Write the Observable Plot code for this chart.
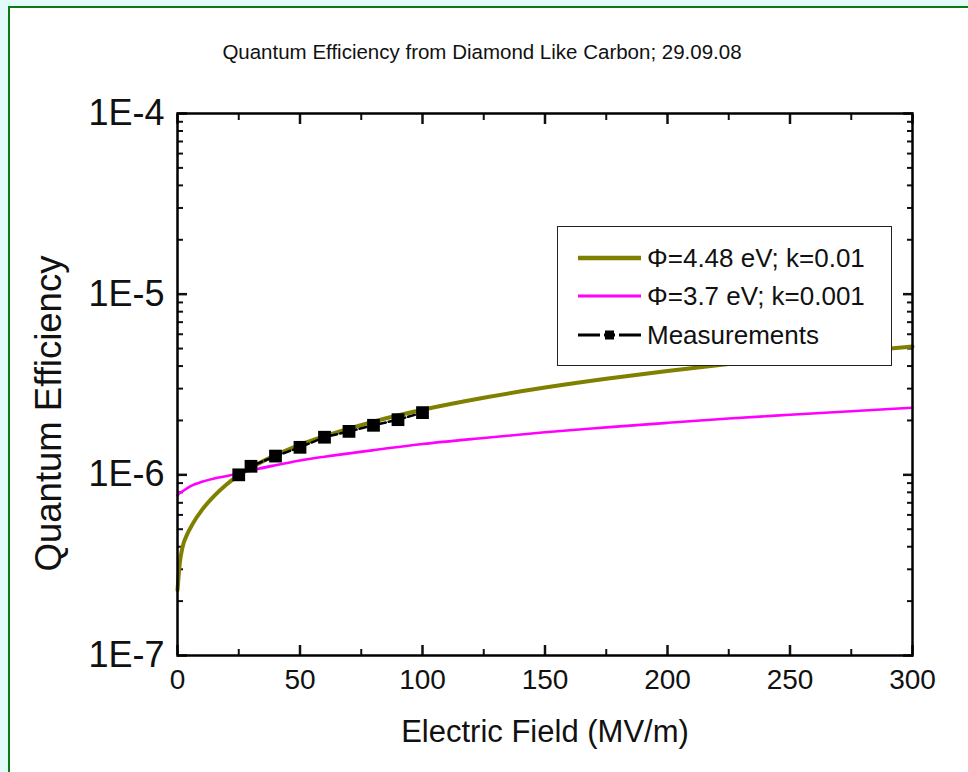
<!DOCTYPE html>
<html>
<head>
<meta charset="utf-8">
<script src="https://cdn.jsdelivr.net/npm/d3@7"></script>
<script src="https://cdn.jsdelivr.net/npm/@observablehq/plot@0.6"></script>
<style>
  html, body { margin: 0; padding: 0; }
  body { width: 968px; height: 772px; background: #e2fafa; position: relative; overflow: hidden;
         font-family: "Liberation Sans", Arial, sans-serif; }
  #sheet { position: absolute; left: 8px; top: 6px; width: 1000px; height: 800px;
           border-left: 2.5px solid #0b7a12; border-top: 2.5px solid #0b7a12; background: #fff; }
  #title { position: absolute; left: 0; width: 964px; top: 40px; text-align: center;
           font-size: 20.5px; color: #111; }
  #chart { position: absolute; left: 0; top: 0; }
  #legend { position: absolute; left: 557px; top: 226px; width: 335px; height: 140px;
            border: 1.2px solid #222; background: #fff; box-sizing: border-box; }
  .row { position: absolute; left: 20px; height: 30px; display: flex; align-items: center;
         font-size: 26px; color: #111; white-space: nowrap; }
  .row svg { margin-right: 6px; }
</style>
</head>
<body>
<div id="sheet"></div>
<div id="chart"></div>
<div id="title">Quantum Efficiency from Diamond Like Carbon; 29.09.08</div>
<div id="legend"></div>
<script>
// ---------------- data ----------------
const fieldX     = [0, 1, 2, 4, 6, 10, 15, 20, 25, 30, 40, 50, 60, 80, 100, 125, 150, 175, 200, 225, 250, 275, 300];
const qeOlive    = [2.3e-7, 3.3e-7, 3.95e-7, 4.7e-7, 5.3e-7, 6.4e-7, 7.65e-7, 8.85e-7, 9.95e-7, 1.095e-6, 1.285e-6, 1.465e-6, 1.635e-6, 1.97e-6, 2.29e-6, 2.67e-6, 3.04e-6, 3.4e-6, 3.76e-6, 4.1e-6, 4.45e-6, 4.79e-6, 5.13e-6];
const qeMagenta  = [7.7e-7, 7.95e-7, 8.1e-7, 8.45e-7, 8.75e-7, 9.15e-7, 9.55e-7, 9.85e-7, 1.018e-6, 1.058e-6, 1.13e-6, 1.2e-6, 1.26e-6, 1.37e-6, 1.48e-6, 1.6e-6, 1.72e-6, 1.83e-6, 1.94e-6, 2.05e-6, 2.15e-6, 2.25e-6, 2.35e-6];
const measX      = [25, 30, 40, 50, 60, 70, 80, 90, 100];
const measQE     = [1.0e-6, 1.115e-6, 1.27e-6, 1.42e-6, 1.615e-6, 1.74e-6, 1.88e-6, 2.02e-6, 2.21e-6];

const seriesNames  = ["\u03A6=4.48 eV; k=0.01", "\u03A6=3.7 eV; k=0.001", "Measurements"];
const seriesColors = ["#808000", "#ff00ff", "#000000"];

const xTicks      = [0, 50, 100, 150, 200, 250, 300];
const xMinorTicks = [25, 75, 125, 175, 225, 275];
const yTicks      = [1e-7, 1e-6, 1e-5, 1e-4];
const yTickLabels = ["1E-7", "1E-6", "1E-5", "1E-4"];
const yMinorTicks = [2e-7, 3e-7, 4e-7, 5e-7, 6e-7, 7e-7, 8e-7, 9e-7,
                     2e-6, 3e-6, 4e-6, 5e-6, 6e-6, 7e-6, 8e-6, 9e-6,
                     2e-5, 3e-5, 4e-5, 5e-5, 6e-5, 7e-5, 8e-5, 9e-5];

// ---------------- tables ----------------
const olive   = fieldX.map((x, i) => ({x, y: qeOlive[i]}));
const magenta = fieldX.map((x, i) => ({x, y: qeMagenta[i]}));
const meas    = measX.map((x, i) => ({x, y: measQE[i]}));

const blank = () => "";
const font = "'Liberation Sans', Arial, sans-serif";

const chart = Plot.plot({
  width: 968,
  height: 772,
  marginLeft: 177,
  marginRight: 56,
  marginTop: 113,
  marginBottom: 117,
  style: {background: "transparent", fontFamily: font, color: "#111", overflow: "visible"},
  x: {domain: [0, 300]},
  y: {type: "log", domain: [1e-7, 1e-4]},
  marks: [
    // inward major/minor ticks on all four sides
    Plot.axisX(xTicks, {anchor: "bottom", tickSize: 10, dy: -10, strokeWidth: 2.5, tickFormat: blank, label: null}),
    Plot.axisX(xMinorTicks, {anchor: "bottom", tickSize: 6, dy: -6, strokeWidth: 2, tickFormat: blank, label: null}),
    Plot.axisX(xTicks, {anchor: "top", tickSize: 10, dy: 10, strokeWidth: 2.5, tickFormat: blank, label: null}),
    Plot.axisX(xMinorTicks, {anchor: "top", tickSize: 6, dy: 6, strokeWidth: 2, tickFormat: blank, label: null}),
    Plot.axisY(yTicks, {anchor: "left", tickSize: 10, dx: 10, strokeWidth: 2.5, tickFormat: blank, label: null}),
    Plot.axisY(yMinorTicks, {anchor: "left", tickSize: 6, dx: 6, strokeWidth: 2, tickFormat: blank, label: null}),
    Plot.axisY(yTicks, {anchor: "right", tickSize: 10, dx: -10, strokeWidth: 2.5, tickFormat: blank, label: null}),
    Plot.axisY(yMinorTicks, {anchor: "right", tickSize: 6, dx: -6, strokeWidth: 2, tickFormat: blank, label: null}),
    // tick labels and axis titles
    Plot.axisX(xTicks, {anchor: "bottom", tickSize: 0, tickPadding: 14, fontSize: 28,
      label: "Electric Field (MV/m)", labelAnchor: "center", labelArrow: "none", labelOffset: 86}),
    Plot.axisY(yTicks, {anchor: "left", tickSize: 0, tickPadding: 13, fontSize: 36,
      tickFormat: (d) => yTickLabels[yTicks.indexOf(d)],
      label: "Quantum Efficiency", labelAnchor: "center", labelArrow: "none", labelOffset: 142}),
    // curves
    Plot.line(magenta, {x: "x", y: "y", stroke: seriesColors[1], strokeWidth: 2.6, curve: "monotone-x"}),
    Plot.line(olive, {x: "x", y: "y", stroke: seriesColors[0], strokeWidth: 4, curve: "monotone-x"}),
    Plot.line(meas, {x: "x", y: "y", stroke: seriesColors[2], strokeWidth: 2.5, strokeDasharray: "7,3"}),
    Plot.dot(meas, {x: "x", y: "y", symbol: "square", r: 7.2, fill: "#000", stroke: "none"}),
    Plot.frame({stroke: "#000", strokeWidth: 2.5})
  ]
});
document.getElementById("chart").appendChild(chart);

// style axis titles
const xLab = chart.querySelector("[aria-label='x-axis label']");
const yLab = chart.querySelector("[aria-label='y-axis label']");
if (xLab) xLab.querySelectorAll("text").forEach(t => t.setAttribute("font-size", 31));
if (yLab) {
  yLab.querySelectorAll("text").forEach(t => t.setAttribute("font-size", 36.5));
  const prev = yLab.getAttribute("transform") || "";
  yLab.setAttribute("transform", "translate(0,29) " + prev);
}

// ---------------- legend ----------------
const legend = document.getElementById("legend");
const rowTops = [16, 54, 93];
seriesNames.forEach((name, i) => {
  const row = document.createElement("div");
  row.className = "row";
  row.style.top = rowTops[i] + "px";
  const ns = "http://www.w3.org/2000/svg";
  const svg = document.createElementNS(ns, "svg");
  svg.setAttribute("width", 63); svg.setAttribute("height", 20);
  const line = document.createElementNS(ns, "line");
  line.setAttribute("x1", 0); line.setAttribute("x2", 63);
  line.setAttribute("y1", 10); line.setAttribute("y2", 10);
  line.setAttribute("stroke", seriesColors[i]);
  line.setAttribute("stroke-width", i === 0 ? 4.5 : (i === 1 ? 3 : 2.8));
  if (i === 2) line.setAttribute("stroke-dasharray", "22,4,11,4,22");
  svg.appendChild(line);
  if (i === 2) {
    const sq = document.createElementNS(ns, "rect");
    sq.setAttribute("x", 27); sq.setAttribute("y", 5.5);
    sq.setAttribute("width", 9); sq.setAttribute("height", 9);
    sq.setAttribute("fill", "#000");
    svg.appendChild(sq);
  }
  row.appendChild(svg);
  const label = document.createElement("span");
  label.textContent = name;
  row.appendChild(label);
  legend.appendChild(row);
});
</script>
</body>
</html>
